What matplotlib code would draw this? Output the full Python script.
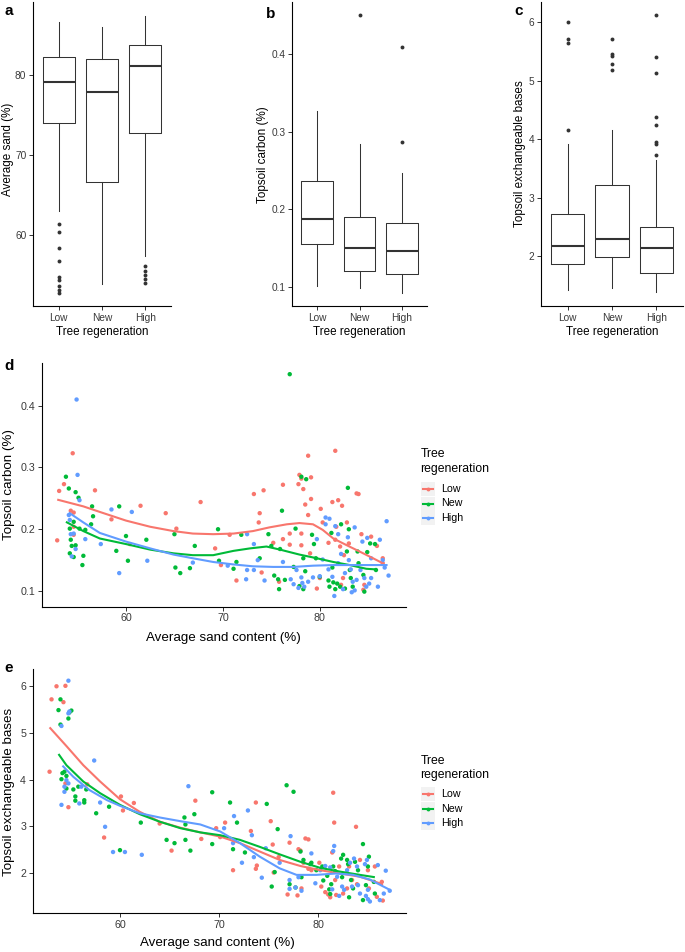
import matplotlib
matplotlib.use('Agg')
import matplotlib.pyplot as plt
from matplotlib.lines import Line2D
from matplotlib.patches import Rectangle

plt.rcParams['font.family'] = ['Liberation Sans', 'DejaVu Sans']

# ---------------- data ----------------
groups = ['Low', 'New', 'High']
colors = ['#F8766D', '#00BA38', '#619CFF']

# panel a: average sand (%) box statistics
sand_q1 = [74.0, 66.6, 72.7]
sand_med = [79.1, 77.9, 81.1]
sand_q3 = [82.2, 82.0, 83.7]
sand_lo = [63.0, 53.8, 57.3]
sand_hi = [86.6, 86.0, 87.4]
sand_out = [[61.4, 60.3, 58.4, 56.7, 54.7, 54.3, 53.6, 53.1, 52.7],
            [],
            [56.1, 55.5, 55.0, 54.5, 54.0]]

# panel b: topsoil carbon (%) box statistics
carbon_q1 = [0.155, 0.121, 0.117]
carbon_med = [0.187, 0.150, 0.146]
carbon_q3 = [0.237, 0.190, 0.183]
carbon_lo = [0.101, 0.099, 0.092]
carbon_hi = [0.327, 0.284, 0.247]
carbon_out = [[], [0.450], [0.409, 0.287]]

# panel c: topsoil exchangeable bases box statistics
bases_q1 = [1.86, 1.98, 1.71]
bases_med = [2.17, 2.29, 2.14]
bases_q3 = [2.73, 3.22, 2.50]
bases_lo = [1.43, 1.45, 1.38]
bases_hi = [3.92, 4.16, 3.65]
bases_out = [[6.00, 5.72, 5.65, 4.16],
             [5.72, 5.46, 5.43, 5.29, 5.18],
             [6.13, 5.41, 5.14, 4.39, 4.25, 3.96, 3.92, 3.74]]

# panel d: (sand %, topsoil carbon %) per group
carbon_low = [(52.9, 0.182), (53.1, 0.262), (53.6, 0.273), (54.5, 0.323), (54.3, 0.230), (54.6, 0.204),
              (54.6, 0.227), (54.6, 0.191), (56.8, 0.263), (58.5, 0.216), (61.5, 0.238), (60.4, 0.176),
              (64.1, 0.226), (65.2, 0.201), (67.7, 0.244), (69.2, 0.169), (69.8, 0.142), (70.7, 0.191),
              (71.4, 0.117), (73.2, 0.257), (73.8, 0.226), (73.7, 0.211), (74.2, 0.263), (74.0, 0.130),
              (75.2, 0.178), (75.8, 0.115), (76.2, 0.272), (76.2, 0.184), (76.9, 0.193), (76.9, 0.175),
              (77.8, 0.273), (77.9, 0.288), (78.1, 0.282), (78.3, 0.265), (78.8, 0.319), (78.5, 0.240),
              (78.8, 0.223), (79.1, 0.284), (79.1, 0.249), (78.1, 0.193), (78.1, 0.174), (79.0, 0.161),
              (79.7, 0.104), (80.1, 0.233), (80.3, 0.211), (80.9, 0.178), (81.3, 0.244), (81.6, 0.327),
              (81.9, 0.247), (82.3, 0.238), (81.7, 0.204), (81.6, 0.183), (82.1, 0.172), (82.8, 0.211),
              (82.5, 0.158), (82.4, 0.121), (83.0, 0.177), (83.8, 0.258), (84.0, 0.257), (84.3, 0.192),
              (84.5, 0.102), (85.3, 0.188), (85.9, 0.173), (86.5, 0.153), (86.5, 0.145), (82.2, 0.110),
              (80.0, 0.121), (84.6, 0.110)]
carbon_new = [(53.8, 0.285), (54.1, 0.266), (54.2, 0.201), (54.3, 0.183), (54.2, 0.161), (54.4, 0.173),
              (54.6, 0.155), (54.6, 0.212), (54.8, 0.260), (54.8, 0.174), (55.1, 0.251), (55.2, 0.201),
              (55.5, 0.142), (55.6, 0.157), (55.8, 0.199), (56.5, 0.237), (56.6, 0.221), (56.4, 0.208),
              (59.0, 0.165), (59.3, 0.237), (60.0, 0.189), (60.2, 0.149), (62.1, 0.183), (65.0, 0.192),
              (65.1, 0.138), (65.6, 0.129), (66.6, 0.137), (67.1, 0.173), (69.5, 0.200), (69.6, 0.149),
              (71.1, 0.136), (71.4, 0.147), (71.9, 0.191), (73.8, 0.153), (74.7, 0.192), (75.0, 0.173),
              (75.3, 0.125), (75.7, 0.119), (75.8, 0.103), (75.9, 0.168), (76.1, 0.230), (76.4, 0.118),
              (76.9, 0.451), (77.3, 0.139), (77.5, 0.201), (77.9, 0.108), (78.1, 0.285), (78.3, 0.153),
              (78.3, 0.103), (78.5, 0.132), (78.6, 0.281), (79.2, 0.191), (79.4, 0.176), (79.6, 0.153),
              (80.0, 0.123), (80.9, 0.117), (81.0, 0.107), (81.2, 0.194), (81.3, 0.138), (81.4, 0.114),
              (81.6, 0.103), (81.8, 0.112), (82.1, 0.107), (82.2, 0.208), (82.8, 0.164), (82.9, 0.267),
              (83.0, 0.200), (83.1, 0.134), (83.2, 0.121), (83.4, 0.107), (83.9, 0.164), (84.0, 0.145),
              (84.5, 0.126), (84.6, 0.099), (84.9, 0.163), (85.2, 0.177), (85.8, 0.134), (85.7, 0.176),
              (82.6, 0.104)]
carbon_high = [(54.1, 0.223), (54.2, 0.215), (54.3, 0.192), (54.6, 0.193), (54.9, 0.410), (55.0, 0.288),
               (55.2, 0.247), (54.8, 0.168), (54.4, 0.156), (55.8, 0.184), (57.4, 0.176), (58.5, 0.232),
               (59.3, 0.129), (60.6, 0.228), (62.2, 0.149), (66.9, 0.146), (70.5, 0.141), (72.4, 0.119),
               (72.5, 0.192), (72.5, 0.134), (73.2, 0.134), (73.2, 0.176), (73.6, 0.150), (74.3, 0.117),
               (76.2, 0.147), (77.0, 0.119), (77.3, 0.111), (77.6, 0.134), (77.8, 0.105), (78.1, 0.122),
               (78.2, 0.113), (78.4, 0.107), (78.8, 0.115), (79.3, 0.122), (80.0, 0.124), (79.7, 0.184),
               (80.3, 0.151), (80.6, 0.219), (80.6, 0.208), (80.9, 0.135), (81.0, 0.217), (81.3, 0.123),
               (81.5, 0.092), (81.6, 0.205), (81.9, 0.192), (81.9, 0.145), (82.2, 0.160), (82.4, 0.103),
               (82.6, 0.129), (82.9, 0.187), (83.0, 0.150), (83.2, 0.135), (83.4, 0.115), (83.3, 0.098),
               (83.6, 0.101), (83.6, 0.203), (83.8, 0.118), (84.2, 0.134), (84.4, 0.180), (84.6, 0.121),
               (84.8, 0.107), (84.9, 0.186), (85.1, 0.112), (85.3, 0.121), (85.3, 0.153), (86.0, 0.107),
               (86.2, 0.183), (86.5, 0.150), (86.7, 0.138), (86.9, 0.213), (87.1, 0.125)]

# loess curves
carbon_fit_low = [(52.9, 0.248), (55.6, 0.237), (57.3, 0.228), (60.0, 0.214), (62.5, 0.204), (64.9, 0.197),
                  (66.9, 0.193), (69.0, 0.192), (71.1, 0.193), (73.1, 0.197), (74.8, 0.203), (76.6, 0.208),
                  (77.9, 0.210), (79.3, 0.208), (80.3, 0.199), (81.4, 0.185), (82.8, 0.174), (84.1, 0.164),
                  (85.5, 0.153), (86.5, 0.145)]
carbon_fit_new = [(53.8, 0.212), (55.6, 0.197), (57.3, 0.185), (60.0, 0.176), (62.5, 0.167), (64.9, 0.161),
                  (66.9, 0.158), (69.0, 0.158), (71.1, 0.165), (72.8, 0.169), (74.5, 0.172), (75.9, 0.167),
                  (77.9, 0.159), (79.7, 0.153), (81.4, 0.147), (83.1, 0.142), (84.8, 0.136), (85.8, 0.135)]
carbon_fit_high = [(54.1, 0.227), (55.6, 0.211), (57.3, 0.194), (60.0, 0.180), (62.5, 0.169), (64.9, 0.159),
                   (66.9, 0.153), (69.0, 0.147), (71.1, 0.143), (73.1, 0.140), (75.2, 0.139), (77.3, 0.139),
                   (79.3, 0.141), (81.4, 0.142), (83.4, 0.142), (85.5, 0.142), (87.0, 0.142)]

# panel e: (sand %, topsoil exchangeable bases) per group
bases_low = [(52.9, 4.17), (53.1, 5.72), (53.6, 6.00), (54.3, 5.66), (54.5, 6.01), (54.5, 3.92), (54.8, 3.41),
             (56.7, 3.90), (58.4, 2.76), (60.1, 3.64), (60.3, 3.34), (61.4, 3.50), (64.0, 3.06), (65.2, 2.48),
             (67.6, 3.55), (68.2, 2.73), (69.7, 2.96), (70.1, 2.77), (70.6, 3.08), (71.4, 2.06), (73.2, 2.90),
             (73.7, 3.51), (73.7, 2.09), (73.8, 2.16), (75.2, 3.11), (75.4, 2.61), (75.5, 2.01), (76.0, 2.34),
             (76.9, 1.54), (77.1, 2.65), (77.9, 1.52), (78.0, 2.51), (78.2, 2.48), (78.3, 1.67), (78.5, 2.22),
             (78.7, 2.74), (79.0, 2.72), (79.0, 2.09), (79.3, 2.06), (80.1, 2.22), (80.3, 1.71), (80.7, 1.59),
             (81.0, 1.54), (81.2, 1.48), (81.4, 2.44), (81.5, 3.72), (81.6, 3.08), (81.7, 1.85), (81.8, 1.53),
             (82.1, 2.14), (82.5, 1.56), (82.9, 1.67), (83.1, 2.14), (83.4, 1.85), (83.8, 2.99), (83.9, 1.76),
             (84.2, 2.28), (85.0, 2.06), (85.1, 1.67), (85.7, 2.14), (85.9, 1.49), (86.4, 1.81), (86.5, 1.41)]
bases_new = [(53.8, 5.49), (54.0, 5.72), (54.0, 5.18), (54.1, 4.01), (54.2, 4.14), (54.4, 4.17), (54.6, 4.08),
             (54.6, 3.81), (54.8, 5.31), (54.9, 5.44), (55.1, 5.48), (55.3, 3.79), (55.5, 3.64), (55.5, 3.55),
             (55.8, 3.85), (56.4, 3.56), (56.4, 3.51), (56.6, 3.79), (57.6, 3.28), (58.9, 3.42), (60.0, 2.49),
             (62.1, 3.08), (64.7, 2.71), (65.5, 2.64), (66.5, 3.19), (66.6, 2.71), (66.6, 3.04), (67.1, 2.48),
             (67.5, 3.26), (69.3, 3.73), (69.3, 2.62), (71.1, 3.51), (71.4, 2.51), (71.8, 3.08), (72.6, 2.44),
             (74.8, 3.48), (75.3, 1.71), (75.6, 2.02), (75.9, 2.94), (76.8, 3.88), (77.1, 1.76), (77.5, 3.74),
             (77.7, 1.69), (78.2, 2.46), (78.3, 1.91), (78.5, 2.28), (79.2, 2.19), (79.3, 2.22), (79.8, 2.06),
             (80.4, 2.14), (80.5, 1.84), (80.9, 1.94), (81.1, 1.65), (81.2, 1.55), (81.3, 1.76), (81.5, 2.14),
             (81.7, 2.04), (82.3, 2.31), (82.4, 1.91), (82.5, 2.39), (82.9, 2.28), (83.0, 2.19), (83.1, 1.48),
             (83.3, 1.85), (83.5, 1.67), (83.7, 2.24), (84.0, 2.06), (84.5, 2.62), (84.5, 1.42), (84.8, 1.74),
             (85.0, 2.14), (85.1, 2.35), (85.6, 1.81), (85.7, 1.56)]
bases_high = [(54.1, 5.15), (54.1, 3.46), (54.4, 3.74), (54.4, 3.85), (54.6, 3.99), (54.8, 6.12), (54.8, 5.42),
              (54.8, 3.92), (54.9, 5.46), (55.9, 3.49), (56.1, 3.85), (57.4, 4.41), (58.0, 3.51), (58.5, 2.99),
              (59.3, 2.45), (60.5, 2.45), (62.2, 2.39), (66.9, 3.86), (70.5, 2.96), (71.4, 2.64), (71.5, 3.22),
              (72.3, 2.22), (72.9, 3.34), (73.3, 2.81), (73.5, 2.34), (74.3, 1.90), (74.7, 2.53), (76.1, 2.22),
              (77.1, 1.85), (77.1, 1.66), (77.2, 2.79), (77.7, 1.69), (78.0, 1.91), (78.3, 1.62), (79.3, 2.42),
              (79.7, 1.78), (80.2, 2.06), (80.7, 2.15), (81.2, 2.12), (81.4, 1.65), (81.5, 2.47), (81.6, 2.58),
              (81.9, 1.92), (82.1, 1.51), (82.4, 1.71), (82.6, 1.64), (82.9, 2.06), (83.2, 2.22), (83.4, 1.71),
              (83.6, 2.31), (83.9, 2.14), (84.0, 1.74), (84.2, 1.56), (84.7, 2.19), (84.9, 2.28), (84.8, 1.51),
              (85.0, 1.44), (85.2, 1.39), (85.0, 1.64), (86.0, 2.17), (86.2, 1.42), (86.6, 1.56), (86.8, 2.05),
              (87.2, 1.62)]

# loess curves
bases_fit_low = [(52.9, 5.12), (54.6, 4.72), (56.3, 4.31), (58.0, 3.96), (60.0, 3.58), (62.0, 3.31),
                 (64.0, 3.10), (66.1, 2.97), (68.1, 2.87), (70.1, 2.78), (72.1, 2.64), (74.1, 2.46),
                 (76.1, 2.28), (78.2, 2.15), (80.2, 2.06), (82.2, 1.99), (84.2, 1.92), (86.2, 1.78), (86.5, 1.74)]
bases_fit_new = [(53.8, 4.55), (54.6, 4.31), (56.3, 3.96), (58.0, 3.71), (60.0, 3.46), (62.0, 3.26),
                 (64.0, 3.10), (66.1, 2.96), (68.1, 2.87), (70.1, 2.81), (72.1, 2.71), (74.1, 2.56),
                 (76.1, 2.40), (78.2, 2.24), (80.2, 2.11), (82.2, 2.03), (84.2, 1.96), (85.7, 1.91)]
bases_fit_high = [(54.2, 4.30), (55.3, 4.06), (56.9, 3.78), (58.7, 3.56), (60.0, 3.44), (62.0, 3.28),
                  (64.0, 3.19), (66.1, 3.11), (68.1, 3.04), (70.1, 2.89), (72.1, 2.64), (74.1, 2.35),
                  (76.1, 2.10), (77.8, 1.96), (79.8, 1.96), (81.8, 1.99), (83.5, 1.96), (85.2, 1.86), (87.2, 1.64)]

# ---------------- layout helpers ----------------
W, H = 685, 952
fig = plt.figure(figsize=(W / 100, H / 100), dpi=100)
fig.patch.set_facecolor('white')


def add_ax(l, t, r, b):
    return fig.add_axes([l / W, 1 - b / H, (r - l) / W, (b - t) / H])


def px_text(x, y, s, **kw):
    kw.setdefault('ha', 'center')
    kw.setdefault('va', 'center')
    fig.text(x / W, 1 - y / H, s, **kw)


def style(ax, tsize):
    for side in ('top', 'right'):
        ax.spines[side].set_visible(False)
    for side in ('left', 'bottom'):
        ax.spines[side].set_color('black')
        ax.spines[side].set_linewidth(0.8)
    ax.tick_params(axis='both', direction='out', length=2.8, width=0.7, color='#333333',
                   labelcolor='#3A3A3A', labelsize=tsize, pad=2)
    ax.set_facecolor('white')


def boxpanel(ax, q1, med, q3, lo, hi, outs, ylim, yticks, ylabels):
    stats = [dict(q1=q1[i], med=med[i], q3=q3[i], whislo=lo[i], whishi=hi[i], fliers=outs[i])
             for i in range(len(groups))]
    ax.bxp(stats, positions=[1, 2, 3], widths=0.75, showcaps=False,
           boxprops=dict(color='#333333', lw=0.75),
           whiskerprops=dict(color='#333333', lw=0.75),
           medianprops=dict(color='#333333', lw=1.5),
           flierprops=dict(marker='o', markersize=2.8, markerfacecolor='#333333',
                           markeredgecolor='none'))
    ax.set_xlim(0.4, 3.6)
    ax.set_ylim(*ylim)
    ax.set_xticks([1, 2, 3], groups)
    ax.set_yticks(yticks, ylabels)
    style(ax, 7.3)


# ---------------- panels a-c ----------------
ax_a = add_ax(33, 2, 171, 306)
boxpanel(ax_a, sand_q1, sand_med, sand_q3, sand_lo, sand_hi, sand_out,
         (51.1, 89.1), [60, 70, 80], ['60', '70', '80'])
ax_b = add_ax(292, 2, 427, 306)
boxpanel(ax_b, carbon_q1, carbon_med, carbon_q3, carbon_lo, carbon_hi, carbon_out,
         (0.0755, 0.467), [0.1, 0.2, 0.3, 0.4], ['0.1', '0.2', '0.3', '0.4'])
ax_c = add_ax(541, 2, 683, 306)
boxpanel(ax_c, bases_q1, bases_med, bases_q3, bases_lo, bases_hi, bases_out,
         (1.148, 6.35), [2, 3, 4, 5, 6], ['2', '3', '4', '5', '6'])

small = 8.4
px_text(8, 149, 'Average sand (%)', rotation=90, fontsize=small)
px_text(263, 155, 'Topsoil carbon (%)', rotation=90, fontsize=small)
px_text(519.5, 154, 'Topsoil exchangeable bases', rotation=90, fontsize=small)
for xc in (102, 359.5, 612):
    px_text(xc, 332, 'Tree regeneration', fontsize=small)

px_text(9, 11, 'a', fontsize=11, fontweight='bold')
px_text(271, 14, 'b', fontsize=11, fontweight='bold')
px_text(519, 11, 'c', fontsize=11, fontweight='bold')


# ---------------- panels d, e ----------------
def scatterpanel(ax, pts, fits, xlim, ylim, yticks, ylabels):
    for p, c in zip(pts, colors):
        ax.scatter([v[0] for v in p], [v[1] for v in p], s=10, color=c, edgecolors='none', zorder=2)
    for f, c in zip(fits, colors):
        ax.plot([v[0] for v in f], [v[1] for v in f], color=c, lw=1.5, zorder=3,
                solid_capstyle='butt')
    ax.set_xlim(*xlim)
    ax.set_ylim(*ylim)
    ax.set_xticks([60, 70, 80], ['60', '70', '80'])
    ax.set_yticks(yticks, ylabels)
    style(ax, 7.7)


ax_d = add_ax(41.7, 362.7, 406, 606.7)
scatterpanel(ax_d, [carbon_low, carbon_new, carbon_high],
             [carbon_fit_low, carbon_fit_new, carbon_fit_high],
             (51.3, 88.9), (0.0746, 0.4696), [0.1, 0.2, 0.3, 0.4], ['0.1', '0.2', '0.3', '0.4'])
ax_e = add_ax(32.7, 669.3, 406, 913.3)
scatterpanel(ax_e, [bases_low, bases_new, bases_high],
             [bases_fit_low, bases_fit_new, bases_fit_high],
             (51.2, 88.84), (1.137, 6.364), [2, 3, 4, 5, 6], ['2', '3', '4', '5', '6'])

big = 9.6
px_text(9, 485, 'Topsoil carbon (%)', rotation=90, fontsize=big)
px_text(223, 638, 'Average sand content (%)', fontsize=big)
px_text(9, 792, 'Topsoil exchangeable bases', rotation=90, fontsize=big)
px_text(217, 943, 'Average sand content (%)', fontsize=big)
px_text(9, 366, 'd', fontsize=11, fontweight='bold')
px_text(9, 668, 'e', fontsize=11, fontweight='bold')


# ---------------- legends ----------------
def legend_px(t1, t2, keys):
    px_text(420.5, t1, 'Tree', ha='left', fontsize=8.8, color='black')
    px_text(420.5, t2, 'regeneration', ha='left', fontsize=8.8, color='black')
    for ky, c, g in zip(keys, colors, groups):
        fig.add_artist(Rectangle((421 / W, 1 - (ky + 7) / H), 13.5 / W, 14 / H,
                                 transform=fig.transFigure, facecolor='#F2F2F2',
                                 edgecolor='none'))
        fig.add_artist(Line2D([422.5 / W, 433 / W], [1 - ky / H] * 2, color=c, lw=1.5,
                              transform=fig.transFigure))
        fig.add_artist(Line2D([427.75 / W], [1 - ky / H], marker='o', markersize=2.8, color=c,
                              markeredgecolor='none', transform=fig.transFigure))
        px_text(441.5, ky, g, ha='left', fontsize=7.7, color='black')


legend_px(454.3, 469, [489, 503.5, 518])
legend_px(760.7, 775, [794, 808.5, 823])

fig.savefig('out.png', dpi=100, facecolor='white')
